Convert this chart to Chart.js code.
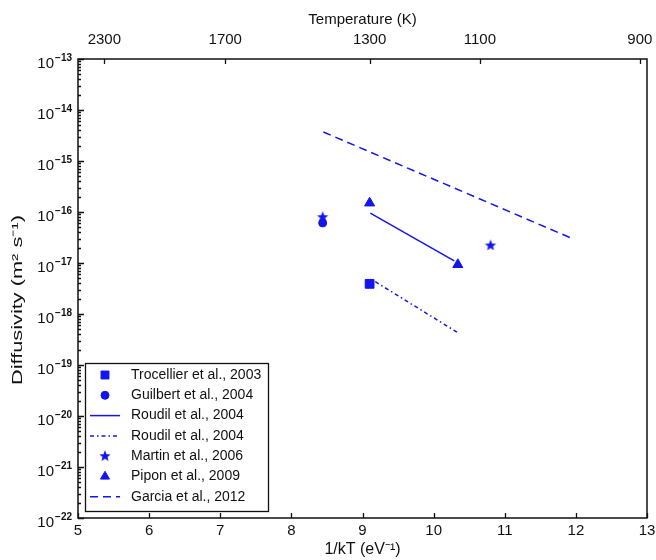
<!DOCTYPE html>
<html><head><meta charset="utf-8">
<script src="https://cdn.jsdelivr.net/npm/chart.js@4.4.1/dist/chart.umd.min.js"></script>
<style>html,body{margin:0;padding:0;background:#fff}#wrap{width:656px;height:560px}</style>
</head><body><div id="wrap"><canvas id="c" width="656" height="560"></canvas></div>
<script>
// ---- data ----
const seriesLabels = ['Trocellier et al., 2003','Guilbert et al., 2004','Roudil et al., 2004','Roudil et al., 2004','Martin et al., 2006','Pipon et al., 2009','Garcia et al., 2012'];
const trocellierX = [9.10];        const trocellierY = [3.9e-18];
const guilbertX   = [8.44];        const guilbertY   = [6.1e-17];
const roudilSolidX = [9.11, 10.29]; const roudilSolidY = [9.5e-17, 1.1e-17];
const roudilDashDotX = [9.18, 10.34]; const roudilDashDotY = [4.3e-18, 4.3e-19];
const martinX = [8.44, 10.80];     const martinY = [7.9e-17, 2.2e-17];
const piponX  = [9.10, 10.34];     const piponY  = [1.5e-16, 9.3e-18];
const garciaX = [8.45, 11.93];     const garciaY = [3.7e-15, 3.1e-17];
const xTicks = [5, 6, 7, 8, 9, 10, 11, 12, 13];
const tempTickLabels = ['2300', '1700', '1300', '1100', '900'];
const tempTickPositions = [5.37, 7.07, 9.10, 10.65, 12.90];
const yMinExp = -22, yMaxExp = -13;
const yTitle = 'Diffusivity (m\u00B2 s\u207B\u00B9)';

const toPts = (xs, ys) => xs.map((x, i) => ({x: x, y: ys[i]}));
const BLUE = '#1414ee';
const FONT = '"Liberation Sans", Arial, Helvetica, sans-serif';
Chart.defaults.font.family = FONT;
Chart.defaults.color = '#111';

function makeStar(){
  const c = document.createElement('canvas'); c.width = 14; c.height = 14;
  const g = c.getContext('2d'); g.fillStyle = BLUE; g.beginPath();
  for (let i = 0; i < 10; i++) {
    const r = i % 2 === 0 ? 6.0 : 2.6; const a = -Math.PI / 2 + i * Math.PI / 5;
    const px = 7 + r * Math.cos(a), py = 7 + r * Math.sin(a);
    i ? g.lineTo(px, py) : g.moveTo(px, py);
  }
  g.closePath(); g.fill(); return c;
}
const starImg = makeStar();

const ptDS = (label, data, style, radius) => ({label, data, showLine: false, pointStyle: style, pointRadius: radius, pointHoverRadius: radius, backgroundColor: BLUE, borderColor: BLUE, pointBorderWidth: 1});
const lnDS = (label, data, dash) => ({label, data, showLine: true, pointRadius: 0, borderColor: BLUE, borderWidth: 1.5, borderDash: dash, fill: false, tension: 0});

const datasets = [
  ptDS(seriesLabels[0], toPts(trocellierX, trocellierY), 'rect', 6.2),
  ptDS(seriesLabels[1], toPts(guilbertX, guilbertY), 'circle', 4),
  lnDS(seriesLabels[2], toPts(roudilSolidX, roudilSolidY), []),
  lnDS(seriesLabels[3], toPts(roudilDashDotX, roudilDashDotY), [4, 3, 1.5, 3]),
  ptDS(seriesLabels[4], toPts(martinX, martinY), starImg, 6),
  ptDS(seriesLabels[5], toPts(piponX, piponY), 'triangle', 5.8),
  lnDS(seriesLabels[6], toPts(garciaX, garciaY), [8, 5])
];

const framePlugin = {
  id: 'frame',
  afterDatasetsDraw(chart) {
    const ctx = chart.ctx, a = chart.chartArea;
    const {x, y, x2} = chart.scales;
    ctx.save();
    ctx.strokeStyle = '#111'; ctx.lineWidth = 1.3;
    ctx.beginPath();
    y.ticks.forEach(t => {
      const py = Math.round(y.getPixelForValue(t.value)) + 0.5;
      const e = Math.log10(t.value); const major = Math.abs(e - Math.round(e)) < 1e-6;
      ctx.moveTo(a.left, py); ctx.lineTo(a.left + (major ? 6 : 3), py);
    });
    x.ticks.forEach(t => { const px = Math.round(x.getPixelForValue(t.value)) + 0.5; ctx.moveTo(px, a.bottom); ctx.lineTo(px, a.bottom - 5); });
    x2.ticks.forEach(t => { const px = Math.round(x2.getPixelForValue(t.value)) + 0.5; ctx.moveTo(px, a.top); ctx.lineTo(px, a.top + 5); });
    ctx.stroke();
    ctx.lineWidth = 1.5;
    ctx.strokeRect(a.left, a.top, a.right - a.left, a.bottom - a.top);

    // y tick labels: 10 with raised exponent, placed from the y scale
    ctx.fillStyle = '#111'; ctx.textAlign = 'right'; ctx.textBaseline = 'middle';
    y.ticks.forEach(t => {
      const e = Math.log10(t.value), r = Math.round(e);
      if (Math.abs(e - r) > 1e-6) return;
      const py = y.getPixelForValue(t.value);
      const ex = (r < 0 ? '\u2212' : '') + Math.abs(r);
      ctx.font = 'bold 10px ' + FONT;
      const w = ctx.measureText(ex).width;
      ctx.fillText(ex, 72, py - 1);
      ctx.font = '15px ' + FONT;
      ctx.fillText('10', 72 - w - 1, py + 5);
    });

    // y axis title (stretched along its length like the reference)
    ctx.save();
    ctx.translate(18, 300); ctx.rotate(-Math.PI / 2);
    ctx.font = '15px ' + FONT; ctx.textAlign = 'center'; ctx.textBaseline = 'middle';
    const tw = ctx.measureText(yTitle).width;
    ctx.scale(170 / tw, 1);
    ctx.fillText(yTitle, 0, 0);
    ctx.restore();

    // legend box
    const L = {x: 85, y: 363, w: 183, h: 148};
    ctx.fillStyle = '#fff'; ctx.fillRect(L.x, L.y, L.w, L.h);
    ctx.lineWidth = 1.3; ctx.strokeStyle = '#111'; ctx.strokeRect(L.x + 0.5, L.y + 0.5, L.w, L.h);
    chart.data.datasets.forEach((ds, i) => {
      const ry = 375 + i * 20.3;
      if (ds.showLine) {
        ctx.save(); ctx.strokeStyle = ds.borderColor; ctx.lineWidth = 1.5; ctx.setLineDash(ds.borderDash || []);
        ctx.beginPath(); ctx.moveTo(90, ry); ctx.lineTo(120, ry); ctx.stroke(); ctx.restore();
      } else {
        ctx.save(); ctx.fillStyle = BLUE; ctx.strokeStyle = BLUE; ctx.lineWidth = 1;
        Chart.helpers.drawPoint(ctx, {pointStyle: ds.pointStyle, radius: ds.pointStyle === 'rect' ? 5.6 : (ds.pointStyle === 'triangle' ? 5.2 : 4), rotation: 0, borderWidth: 1}, 105, ry);
        ctx.restore();
      }
      ctx.fillStyle = '#111'; ctx.font = '14px ' + FONT; ctx.textBaseline = 'middle'; ctx.textAlign = 'left';
      ctx.fillText(ds.label, 131, ry);
    });
    ctx.restore();
  }
};

new Chart(document.getElementById('c'), {
  type: 'line',
  data: {datasets},
  options: {
    responsive: false, animation: false, devicePixelRatio: 1,
    layout: {padding: {left: 0, right: 9, top: 0, bottom: 0}},
    plugins: {legend: {display: false}, tooltip: {enabled: false}},
    scales: {
      x: {
        type: 'linear', position: 'bottom', min: 5, max: 13,
        afterBuildTicks: s => { s.ticks = xTicks.map(v => ({value: v})); },
        afterFit: s => { s.height = 42; s.paddingLeft = 0; s.paddingRight = 0; },
        grid: {display: false, drawTicks: false},
        border: {display: false},
        ticks: {autoSkip: false, maxRotation: 0, padding: 4, font: {size: 15}, color: '#111'},
        title: {display: true, text: '1/kT (eV\u207B\u00B9)', font: {size: 16}, color: '#111', padding: {top: 0, bottom: 1}}
      },
      x2: {
        type: 'linear', position: 'top', min: 5, max: 13,
        afterBuildTicks: s => { s.ticks = tempTickPositions.map(v => ({value: v})); },
        afterFit: s => { s.height = 59; s.paddingLeft = 0; s.paddingRight = 0; },
        grid: {display: false, drawTicks: false},
        border: {display: false},
        ticks: {autoSkip: false, maxRotation: 0, padding: 10, font: {size: 15}, color: '#111',
          callback: (v, i) => tempTickLabels[i]},
        title: {display: true, text: 'Temperature (K)', font: {size: 15}, color: '#111', padding: {top: 11, bottom: 0}}
      },
      y: {
        type: 'logarithmic', position: 'left', min: Math.pow(10, yMinExp), max: Math.pow(10, yMaxExp),
        afterBuildTicks: s => {
          const t = [];
          for (let e = yMinExp; e < yMaxExp; e++) for (let m = 1; m <= 9; m++) t.push({value: m * Math.pow(10, e)});
          t.push({value: Math.pow(10, yMaxExp)});
          s.ticks = t;
        },
        afterFit: s => { s.width = 78; s.paddingTop = 0; s.paddingBottom = 0; },
        grid: {display: false, drawTicks: false},
        border: {display: false},
        ticks: {display: false, autoSkip: false},
        title: {display: false}
      }
    }
  },
  plugins: [framePlugin]
});
</script>
</body></html>
